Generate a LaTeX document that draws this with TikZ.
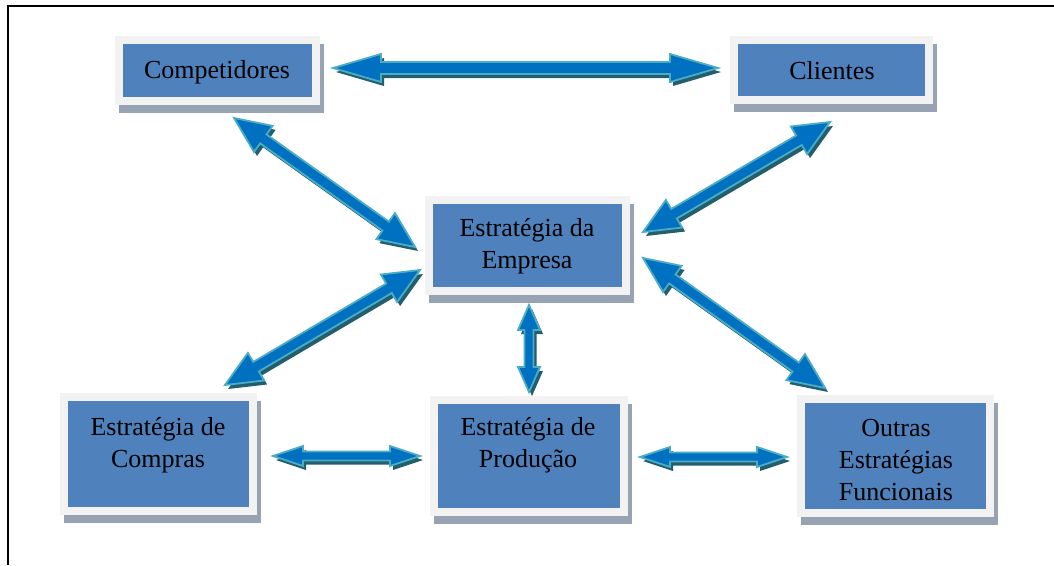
\documentclass[tikz,border=0pt]{standalone}
\usepackage{fontspec}
\setmainfont{Liberation Serif}
\usetikzlibrary{calc,backgrounds}
\definecolor{boxblue}{HTML}{4F81BD}
\definecolor{boxrim}{HTML}{F2F2F2}
\definecolor{boxshadow}{HTML}{97A3B3}
\definecolor{arrfill}{HTML}{0070C0}
\definecolor{arrline}{HTML}{4BACC6}
\definecolor{arrshadow}{HTML}{235E6E}
% #1 from, #2 to, #3 shaft half, #4 head half, #5 head length, #6 style, #7 offset
\newcommand\dblarrowpath[7]{%
  \path[#6] let \p1=($(#2)-(#1)$), \n1={atan2(\y1,\x1)} in
    ($(#1)+#7$)
    -- ($(#1)+#7+(\n1:#5pt)+(\n1+90:#4pt)$)
    -- ($(#1)+#7+(\n1:#5pt)+(\n1+90:#3pt)$)
    -- ($(#2)+#7+(\n1+180:#5pt)+(\n1+90:#3pt)$)
    -- ($(#2)+#7+(\n1+180:#5pt)+(\n1+90:#4pt)$)
    -- ($(#2)+#7$)
    -- ($(#2)+#7+(\n1+180:#5pt)+(\n1-90:#4pt)$)
    -- ($(#2)+#7+(\n1+180:#5pt)+(\n1-90:#3pt)$)
    -- ($(#1)+#7+(\n1:#5pt)+(\n1-90:#3pt)$)
    -- ($(#1)+#7+(\n1:#5pt)+(\n1-90:#4pt)$)
    -- cycle;}
\newcommand\dblarrow[5]{%
  \dblarrowpath{#1}{#2}{#3}{#4}{#5}{arrowshade}{(3pt,-4pt)}%
  \dblarrowpath{#1}{#2}{#3}{#4}{#5}{arrowbody}{(0pt,0pt)}}
\begin{document}
\begin{tikzpicture}[x=1pt,y=-1pt,
  boxnode/.style={draw=boxrim, line width=8pt, fill=boxblue, inner sep=0pt, outer sep=4pt},
  lbl/.style={font=\fontsize{26}{32}\selectfont, align=center, text=black, inner sep=0pt},
  arrowbody/.style={fill=arrfill, draw=arrline, line width=1.8pt, line join=miter},
  arrowshade/.style={fill=arrshadow}]
\useasboundingbox (0,0) rectangle (1054,565);
\draw[line width=2pt] (8,565) -- (8,6) -- (1054,6);

\node[boxnode, minimum width=197pt, minimum height=61pt] (bcomp) at (217.5,70.5) {};
\node[boxnode, minimum width=195pt, minimum height=60pt] (bcli) at (831.5,70) {};
\node[boxnode, minimum width=197pt, minimum height=91pt] (bemp) at (527.5,245.5) {};
\node[boxnode, minimum width=189pt, minimum height=114pt] (bcom) at (158.5,454) {};
\node[boxnode, minimum width=190pt, minimum height=112pt] (bpro) at (529,456) {};
\node[boxnode, minimum width=189pt, minimum height=114pt] (bout) at (895.5,456) {};

\begin{pgfonlayer}{background}
\foreach \b in {bcomp,bcli,bemp,bcom,bpro,bout}
  \fill[boxshadow] ([shift={(4,7.5)}]\b.north west) rectangle ([shift={(4,7.5)}]\b.south east);
\end{pgfonlayer}

\node[lbl] (tcomp) at (217,72) {Competidores};
\node[lbl] (tcli) at (832,71) {Clientes};
\node[lbl] (temp) at (527,246) {Estratégia da\\Empresa};
\node[lbl] (tcom) at (158,445) {Estratégia de\\Compras};
\node[lbl] (tpro) at (528,445) {Estratégia de\\Produção};
\node[lbl] (tout) at (896,460) {Outras\\Estratégias\\Funcionais};

\coordinate (a1s) at (333,68);  \coordinate (a1e) at (718,68);
\coordinate (a2s) at (234,118); \coordinate (a2e) at (415,247);
\coordinate (a3s) at (830,122); \coordinate (a3e) at (643,232);
\coordinate (a4s) at (420,270); \coordinate (a4e) at (225,385);
\coordinate (a5s) at (643,258); \coordinate (a5e) at (825,388);
\coordinate (a6s) at (529,305); \coordinate (a6e) at (529,392);
\coordinate (a7s) at (273,456); \coordinate (a7e) at (420,456);
\coordinate (a8s) at (640,457); \coordinate (a8e) at (787,457);

\dblarrow{a1s}{a1e}{6}{14}{48}
\dblarrow{a2s}{a2e}{5.5}{16}{36}
\dblarrow{a3s}{a3e}{5.5}{16}{36}
\dblarrow{a4s}{a4e}{5.5}{16}{36}
\dblarrow{a5s}{a5e}{5.5}{16}{36}
\dblarrow{a6s}{a6e}{4.5}{11}{25}
\dblarrow{a7s}{a7e}{4.5}{10}{30}
\dblarrow{a8s}{a8e}{4.5}{10}{30}
\end{tikzpicture}
\end{document}
